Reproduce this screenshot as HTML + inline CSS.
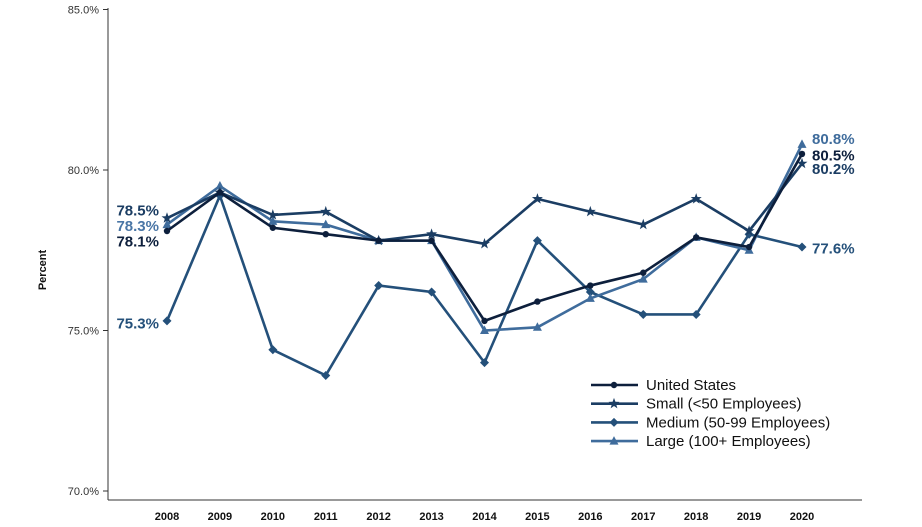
<!DOCTYPE html>
<html><head><meta charset="utf-8"><style>
body{margin:0;background:#fff;}
svg{display:block;font-family:"Liberation Sans",Arial,sans-serif;}
</style></head><body>
<svg id="chart" width="922" height="527" viewBox="0 0 922 527">
<g id="axes"></g>
<g id="series"></g>
<g id="legend"></g>
</svg>
<script>
const years = [2008,2009,2010,2011,2012,2013,2014,2015,2016,2017,2018,2019,2020];
const usValues = [78.1,79.3,78.2,78.0,77.8,77.8,75.3,75.9,76.4,76.8,77.9,77.6,80.5];
const smallValues = [78.5,79.3,78.6,78.7,77.8,78.0,77.7,79.1,78.7,78.3,79.1,78.1,80.2];
const mediumValues = [75.3,79.2,74.4,73.6,76.4,76.2,74.0,77.8,76.2,75.5,75.5,78.0,77.6];
const largeValues = [78.3,79.5,78.4,78.3,77.8,77.8,75.0,75.1,76.0,76.6,77.9,77.5,80.8];
const yTicks = [70,75,80,85];
const seriesNames = ["United States","Small (<50 Employees)","Medium (50-99 Employees)","Large (100+ Employees)"];

const NS="http://www.w3.org/2000/svg";
function mk(tag,attrs,parent){const e=document.createElementNS(NS,tag);for(const k in attrs)e.setAttribute(k,attrs[k]);parent.appendChild(e);return e;}
const x = i => 167 + i*(802-167)/(years.length-1);
const y = v => 170 - (v-80)*32.1;

const axes=document.getElementById('axes');
let yl=mk('line',{x1:108,y1:8,x2:108,y2:500,stroke:'#333','stroke-width':1},axes);


let xl=mk('line',{x1:108,y1:500,x2:862,y2:500,stroke:'#333','stroke-width':1},axes);


yTicks.forEach(t=>{
  const tk=mk('line',{x1:103,y1:y(t),x2:108,y2:y(t),stroke:'#333'},axes);
  
  
  const tl=mk('text',{x:99,y:y(t)+4,'text-anchor':'end','font-size':11,fill:'#333'},axes);
  tl.textContent=t.toFixed(1)+'%';
  
  
});
years.forEach((yr,i)=>{
  const tl=mk('text',{x:x(i),y:520,'text-anchor':'middle','font-size':11,'font-weight':'bold',fill:'#111'},axes);
  tl.textContent=yr;
  
  
});
const yt=mk('text',{x:0,y:0,transform:'translate(46,270) rotate(-90)','text-anchor':'middle','font-size':11,'font-weight':'bold',fill:'#111'},axes);
yt.textContent='Percent';



function marker(type,cx,cy,color,parent){
  let e;
  if(type==='circle') e=mk('circle',{cx:cx,cy:cy,r:3.2,fill:color},parent);
  else if(type==='diamond') e=mk('polygon',{points:`${cx},${cy-4.5} ${cx+4.5},${cy} ${cx},${cy+4.5} ${cx-4.5},${cy}`,fill:color},parent);
  else if(type==='triangle') e=mk('polygon',{points:`${cx},${cy-5} ${cx+4.5},${cy+3.5} ${cx-4.5},${cy+3.5}`,fill:color},parent);
  else {let p=[];for(let k=0;k<10;k++){const r=k%2?2.3:5.8;const a=-Math.PI/2+k*Math.PI/5;p.push((cx+r*Math.cos(a)).toFixed(1)+','+(cy+r*Math.sin(a)).toFixed(1));}
    e=mk('polygon',{points:p.join(' '),fill:color},parent);}
  return e;
}
const defs=[
 {vals:mediumValues,color:'#24507a',m:'diamond',name:'medium'},
 {vals:largeValues,color:'#3f6c9c',m:'triangle',name:'large'},
 {vals:smallValues,color:'#1b3d63',m:'star',name:'small'},
 {vals:usValues,color:'#0d1f3c',m:'circle',name:'united-states'}
];
const sg=document.getElementById('series');
defs.forEach(d=>{
  const g=mk('g',{},sg);
  
  
  const pl=mk('polyline',{points:d.vals.map((v,i)=>x(i)+','+y(v)).join(' '),fill:'none',stroke:d.color,'stroke-width':2.6},g);
  
  
  d.vals.forEach((v,i)=>{const mm=marker(d.m,x(i),y(v),d.color,g);
    
    });
});
// end labels
const labels=[
 {v:smallValues[0],side:'L',dy:-8,color:'#1b3d63'},
 {v:largeValues[0],side:'L',dy:1,color:'#4a76a6'},
 {v:usValues[0],side:'L',dy:10,color:'#0d1f3c'},
 {v:mediumValues[0],side:'L',dy:2,color:'#24507a'},
 {v:largeValues[12],side:'R',dy:-6,color:'#3f6c9c'},
 {v:usValues[12],side:'R',dy:1,color:'#0d1f3c'},
 {v:smallValues[12],side:'R',dy:5,color:'#1b3d63'},
 {v:mediumValues[12],side:'R',dy:1,color:'#24507a'}
];
labels.forEach(l=>{
  const L=l.side==='L';
  const t=mk('text',{x:L?159:812,y:y(l.v)+l.dy+5.5,'text-anchor':L?'end':'start','font-size':15,'font-weight':'bold',fill:l.color},sg);
  t.textContent=l.v.toFixed(1)+'%';
  
  
});
// legend
const lg=document.getElementById('legend');
const lcol=['#0d1f3c','#1b3d63','#24507a','#3f6c9c'];
const lm=['circle','star','diamond','triangle'];
seriesNames.forEach((n,i)=>{
  const yy=385+i*18.7;
  const g=mk('g',{},lg);
  
  
  mk('line',{x1:591,y1:yy,x2:638,y2:yy,stroke:lcol[i],'stroke-width':2.6},g);
  marker(lm[i],614,yy,lcol[i],g);
  const t=mk('text',{x:646,y:yy+5,'font-size':15,fill:'#111'},g);
  t.textContent=n;
});
</script>
</body></html>
